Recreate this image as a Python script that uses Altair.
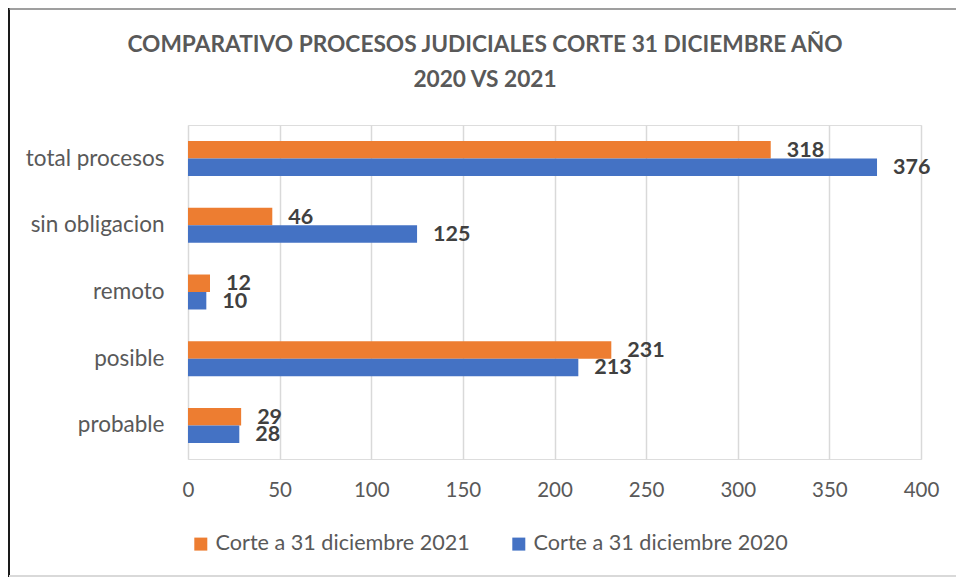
import altair as alt
import pandas as pd

categories = ["total procesos", "sin obligacion", "remoto", "posible", "probable"]
series = ["Corte a 31 diciembre 2021", "Corte a 31 diciembre 2020"]
values_2021 = [318, 46, 12, 231, 29]
values_2020 = [376, 125, 10, 213, 28]
colors = ["#ED7D31", "#4472C4"]
x_ticks = [0, 50, 100, 150, 200, 250, 300, 350, 400]
title_lines = ["COMPARATIVO PROCESOS JUDICIALES CORTE 31 DICIEMBRE AÑO", "2020 VS 2021"]

rows = []
for c, v in zip(categories, values_2021):
    rows.append({"categoria": c, "serie": series[0], "valor": v})
for c, v in zip(categories, values_2020):
    rows.append({"categoria": c, "serie": series[1], "valor": v})
df = pd.DataFrame(rows)

FONT = "Lato"

y_enc = alt.Y("categoria:N", sort=categories, title=None,
              scale=alt.Scale(paddingInner=0.476, paddingOuter=0.24),
              axis=alt.Axis(labelFontSize=22.5, labelColor="#595959", labelFont=FONT,
                            labelPadding=24, ticks=False, domain=False, grid=False,
                            labelLimit=300))
yoff = alt.YOffset("serie:N", sort=series, scale=alt.Scale(domain=series, paddingInner=0, paddingOuter=0))
x_enc = alt.X("valor:Q", title=None,
              scale=alt.Scale(domain=[0, 400], nice=False),
              axis=alt.Axis(values=x_ticks, labelFontSize=20.5, labelColor="#595959", labelFont=FONT,
                            labelPadding=21, ticks=False, domain=False, grid=True, labelFlush=False,
                            gridColor="#D9D9D9", gridWidth=1.5))

base = alt.Chart(df)

bars = base.mark_bar().encode(
    y=y_enc,
    yOffset=yoff,
    x=x_enc,
    color=alt.Color("serie:N", sort=series,
                    scale=alt.Scale(domain=series, range=colors),
                    legend=alt.Legend(title=None, orient="none", direction="horizontal",
                                      legendX=2, legendY=408, padding=0,
                                      symbolType="square", symbolSize=169,
                                      symbolStrokeWidth=0, labelFontSize=21.6,
                                      labelColor="#595959", labelFont=FONT,
                                      labelOffset=4, columnPadding=38, labelLimit=400)),
)

labels = base.mark_text(align="left", baseline="middle", dx=16, dy=1,
                        fontSize=21.5, fontWeight="bold", font=FONT,
                        color="#404040").encode(
    y=alt.Y("categoria:N", sort=categories),
    yOffset=alt.YOffset("serie:N", sort=series),
    x=alt.X("valor:Q"),
    text=alt.Text("valor:Q"),
)

title_df = pd.DataFrame({"t": ["\n".join(title_lines)]})
title = alt.Chart(title_df).mark_text(
    align="center", baseline="alphabetic", lineBreak="\n", lineHeight=35,
    fontSize=22.7, fontWeight="bold", font=FONT, color="#595959").encode(
    text="t:N", x=alt.value(297), y=alt.value(-73))

frame_left = alt.Chart(pd.DataFrame({"k": [0]})).mark_rule(color="#1a1a1a", strokeWidth=2).encode(
    x=alt.value(-179), y=alt.value(-117), y2=alt.value(452))
frame_top = alt.Chart(pd.DataFrame({"k": [0]})).mark_rule(color="#7f7f7f", strokeWidth=1.5).encode(
    x=alt.value(-179), x2=alt.value(768), y=alt.value(-116))
frame_bottom = alt.Chart(pd.DataFrame({"k": [0]})).mark_rule(color="#D9D9D9", strokeWidth=2).encode(
    x=alt.value(-179), x2=alt.value(768), y=alt.value(451))

chart = alt.layer(bars, labels, title, frame_left, frame_top, frame_bottom).properties(
    width=733,
    height=334,
    padding={"left": 180, "top": 117, "right": 36, "bottom": 118},
    autosize=alt.AutoSizeParams(type="none"),
).configure_view(stroke=None).configure(background="white")

chart.save("out.html", embed_options={"renderer": "svg", "actions": False})
